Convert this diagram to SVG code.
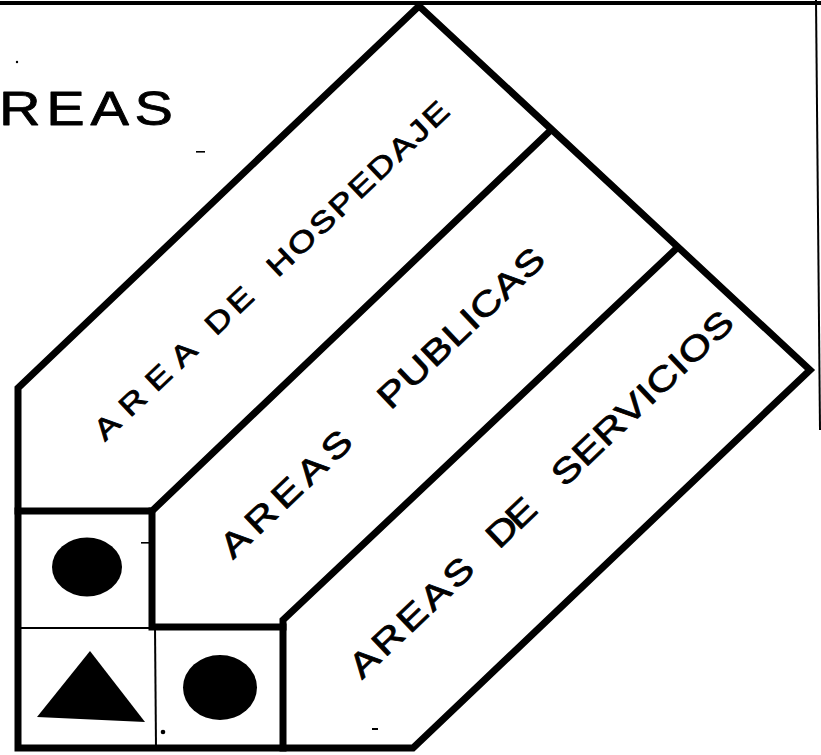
<svg xmlns="http://www.w3.org/2000/svg" width="821" height="755" viewBox="0 0 821 755">
<style>
.thick{fill:none;stroke:#000;stroke-width:7;stroke-linejoin:miter;stroke-linecap:square}
.thin{fill:none;stroke:#000;stroke-width:2}
.lbl{font-family:"Liberation Sans",Arial,sans-serif;fill:#000;stroke:#000;stroke-width:0.8;stroke-linejoin:round}
.h{font-size:29px}
.p{font-size:34px}
.fill{fill:#000;stroke:none}
</style>
<rect x="0" y="0" width="821" height="755" fill="#fff"/>
<g id="frame">
  <line x1="0" y1="3" x2="821" y2="3" stroke="#000" stroke-width="4"/>
  <line x1="816" y1="0" x2="820" y2="430" class="thin"/>
  <text transform="translate(-1,125) scale(1.2,1)" class="lbl" font-size="48" textLength="145" lengthAdjust="spacing" style="stroke-width:0.8">REAS</text>
</g>
<g id="outline">
  <polygon points="18,388 419,6 810,370 413,748 18,748" class="thick"/>
</g>
<g id="area-hospedaje">
  <polyline points="18,511 152,511 550,131" class="thick"/>
  <g transform="translate(105,442) rotate(-43.5)">
    <text transform="translate(0,0) scale(1.25,1)" class="lbl h" letter-spacing="8.3">AREA</text>
    <text transform="translate(153,0) scale(1.25,1)" class="lbl h" letter-spacing="3.7">DE</text>
    <text transform="translate(238,0) scale(1.25,1)" class="lbl h" letter-spacing="2">HOSPEDAJE</text>
  </g>
</g>
<g id="areas-publicas">
  <polyline points="152,511 152,627 283,627" class="thick"/>
  <g transform="translate(233,560) rotate(-43.5)">
    <text transform="translate(0,0) scale(1.25,1)" class="lbl p" letter-spacing="4.8">AREAS</text>
    <text transform="translate(217,0) scale(1.25,1)" class="lbl p" letter-spacing="0.7">PUBLICAS</text>
  </g>
</g>
<g id="areas-servicios">
  <polyline points="677,248 283,620 283,748" class="thick"/>
  <g transform="translate(362,680) rotate(-43.5)">
    <text transform="translate(0,0) scale(1.25,1)" class="lbl p" letter-spacing="2.8">AREAS</text>
    <text transform="translate(189,0) scale(1.25,1)" class="lbl p" letter-spacing="-3">DE</text>
    <text transform="translate(279,0) scale(1.25,1)" class="lbl p" letter-spacing="0.6">SERVICIOS</text>
  </g>
</g>
<g id="symbols">
  <line x1="18" y1="628" x2="152" y2="628" class="thin"/>
  <line x1="155" y1="627" x2="156" y2="748" class="thin"/>
  <ellipse cx="87" cy="567" rx="35" ry="29.5" class="fill"/>
  <polygon points="90,651 37,717 145,722" class="fill"/>
  <ellipse cx="220" cy="687.5" rx="37" ry="32.5" class="fill"/>
</g>
<g id="specks" fill="#000">
  <circle cx="17" cy="62" r="1.2"/>
  <rect x="196" y="151" width="9" height="1.6"/>
  <rect x="141" y="542" width="8" height="1.6"/>
  <circle cx="163" cy="732" r="2.3"/>
  <rect x="372" y="728" width="6" height="2"/>
</g>
</svg>
